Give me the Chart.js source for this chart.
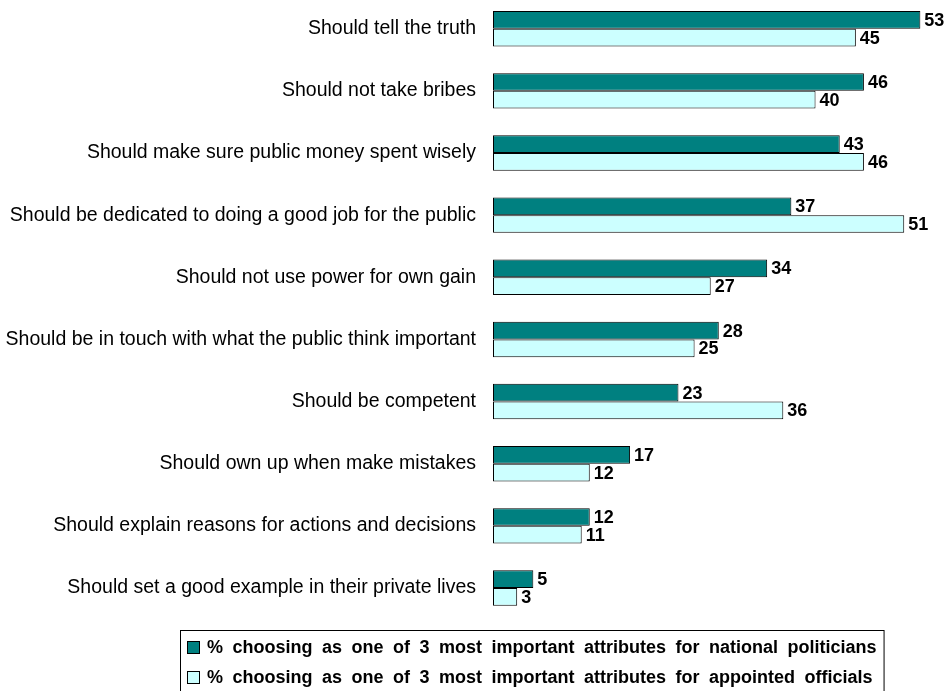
<!DOCTYPE html>
<html>
<head>
<meta charset="utf-8">
<script src="https://cdn.jsdelivr.net/npm/chart.js@4.4.1/dist/chart.umd.min.js"></script>
<style>
  html, body { margin: 0; padding: 0; background: #fff; }
  #wrap { position: relative; width: 951px; height: 691px; }
</style>
</head>
<body>
<div id="wrap"><canvas id="chart"></canvas></div>
<script>
// --- DATA ---
const attributes = [
  'Should tell the truth',
  'Should not take bribes',
  'Should make sure public money spent wisely',
  'Should be dedicated to doing a good job for the public',
  'Should not use power for own gain',
  'Should be in touch with what the public think important',
  'Should be competent',
  'Should own up when make mistakes',
  'Should explain reasons for actions and decisions',
  'Should set a good example in their private lives'
];
const politicians = [53, 46, 43, 37, 34, 28, 23, 17, 12, 5];
const officials = [45, 40, 46, 51, 27, 25, 36, 12, 11, 3];
const seriesNames = [
  '% choosing as one of 3 most important attributes for national politicians',
  '% choosing as one of 3 most important attributes for appointed officials'
];
const seriesColors = ['#008080', '#CCFFFF'];

const FONT = '"Liberation Sans", Arial, sans-serif';
Chart.defaults.font.family = FONT;
Chart.defaults.color = '#000';

// numbers at the end of each bar
const valueLabels = {
  id: 'valueLabels',
  afterDatasetsDraw(chart) {
    const ctx = chart.ctx;
    ctx.save();
    ctx.font = 'bold 18px ' + FONT;
    ctx.fillStyle = '#000';
    ctx.textBaseline = 'middle';
    chart.data.datasets.forEach((ds, di) => {
      chart.getDatasetMeta(di).data.forEach((bar, i) => {
        ctx.fillText(ds.data[i], bar.x + 4, bar.y + 1);
      });
    });
    ctx.restore();
  }
};

// legend in a framed box under the bars
const boxedLegend = {
  id: 'boxedLegend',
  afterDraw(chart) {
    const ctx = chart.ctx;
    const left = 180, top = 630, rowH = 30;
    ctx.save();
    ctx.font = 'bold 18px ' + FONT;
    ctx.wordSpacing = '4.5px';
    let w = 0;
    chart.data.datasets.forEach(ds => { w = Math.max(w, ctx.measureText(ds.label).width); });
    ctx.lineWidth = 1;
    ctx.strokeStyle = '#000';
    ctx.strokeRect(left + 0.5, top + 0.5, 27 + w + 7, 80);
    ctx.textBaseline = 'middle';
    chart.data.datasets.forEach((ds, i) => {
      const cy = top + 17 + i * rowH;
      ctx.fillStyle = ds.backgroundColor;
      ctx.fillRect(left + 7, cy - 6, 12, 12);
      ctx.strokeRect(left + 7.5, cy - 5.5, 12, 12);
      ctx.fillStyle = '#000';
      ctx.fillText(ds.label, left + 27, cy + 1);
    });
    ctx.restore();
  }
};

const barStyle = {
  borderColor: '#000',
  borderWidth: 1,
  borderSkipped: false,
  barPercentage: 1,
  categoryPercentage: 0.57,
  clip: false
};

new Chart(document.getElementById('chart'), {
  type: 'bar',
  data: {
    labels: attributes,
    datasets: [
      Object.assign({ label: seriesNames[0], data: politicians, backgroundColor: seriesColors[0] }, barStyle),
      Object.assign({ label: seriesNames[1], data: officials, backgroundColor: seriesColors[1] }, barStyle)
    ]
  },
  options: {
    indexAxis: 'y',
    responsive: true,
    maintainAspectRatio: false,
    animation: false,
    layout: { padding: { top: 27, right: 0, bottom: 103, left: 0 } },
    plugins: { legend: { display: false }, tooltip: { enabled: false } },
    scales: {
      x: { display: false, min: 0, max: 56.8 },
      y: {
        offset: false,
        grid: { display: false, drawTicks: false },
        border: { display: false },
        ticks: { padding: 17, color: '#000', font: { size: 19.5 } },
        afterFit(scale) { scale.width = 493; }
      }
    }
  },
  plugins: [valueLabels, boxedLegend]
});
</script>
</body>
</html>
